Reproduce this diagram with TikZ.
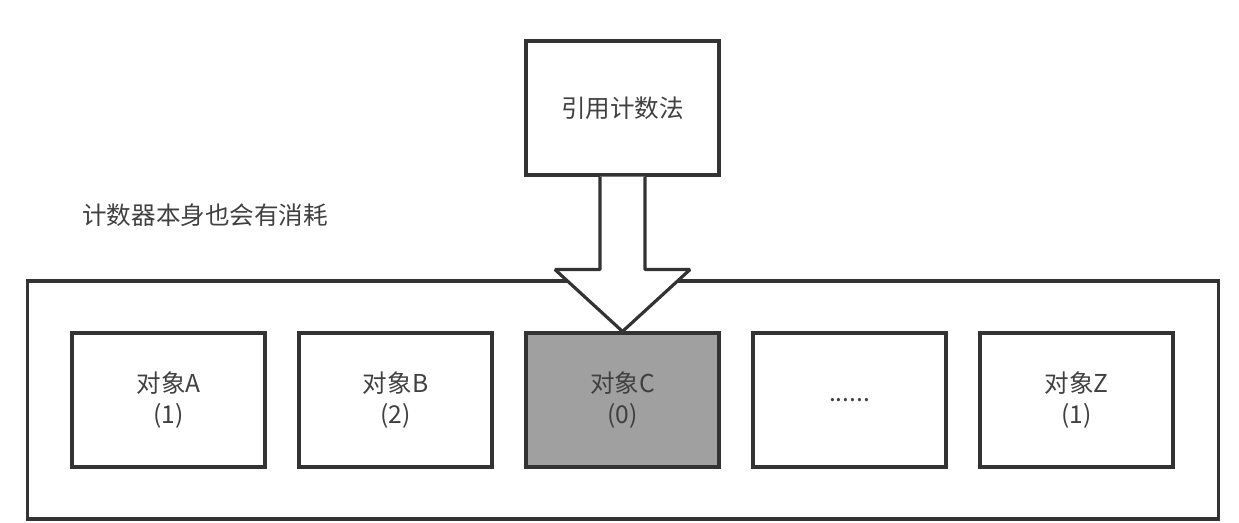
\documentclass[tikz,border=0pt]{standalone}
\usepackage{fontspec}
\setmainfont{Noto Sans CJK SC}
\usetikzlibrary{calc}
\definecolor{linegray}{HTML}{333333}
\definecolor{textgray}{HTML}{404040}
\definecolor{deadgray}{HTML}{A0A0A0}

\begin{document}
\begin{tikzpicture}[x=0.02cm, y=-0.02cm,
    box/.style={draw=linegray, line width=1.8pt, minimum width=3.86cm, minimum height=2.68cm,
      inner sep=0pt, align=center, text=textgray, font=\fontsize{14}{17.5}\selectfont}]
  \useasboundingbox (0,0) rectangle (1239,522);
  % heap
  \node[draw=linegray, line width=1.8pt, minimum width=23.84cm, minimum height=4.76cm, inner sep=0pt] (heap) at (623,400) {};
  \node[anchor=west, text=textgray, font=\fontsize{14}{17.5}\selectfont] (note) at (76,215) {计数器本身也会有消耗};
  % objects
  \foreach \name/\txt/\bg [count=\i from 0] in {objA/{对象A\\(1)}/white, objB/{对象B\\(2)}/white,
      objC/{对象C\\(0)}/deadgray, objD/{......}/white, objZ/{对象Z\\(1)}/white}
    \node[box, fill=\bg] (\name) at (168.5+227*\i,400) {\txt};
  % collector
  \node[box] (refcount) at (622.5,108) {引用计数法};
  \draw[linegray, line width=1.8pt, fill=white, line join=bevel]
    ($(refcount.south)+(-22.5,0)$) -- ($(refcount.south)+(-22.5,93)$) -- ($(refcount.south)+(-67.5,93)$)
    -- (objC.north) -- ($(refcount.south)+(67.5,93)$) -- ($(refcount.south)+(22.5,93)$) -- ($(refcount.south)+(22.5,0)$);
\end{tikzpicture}
\end{document}
